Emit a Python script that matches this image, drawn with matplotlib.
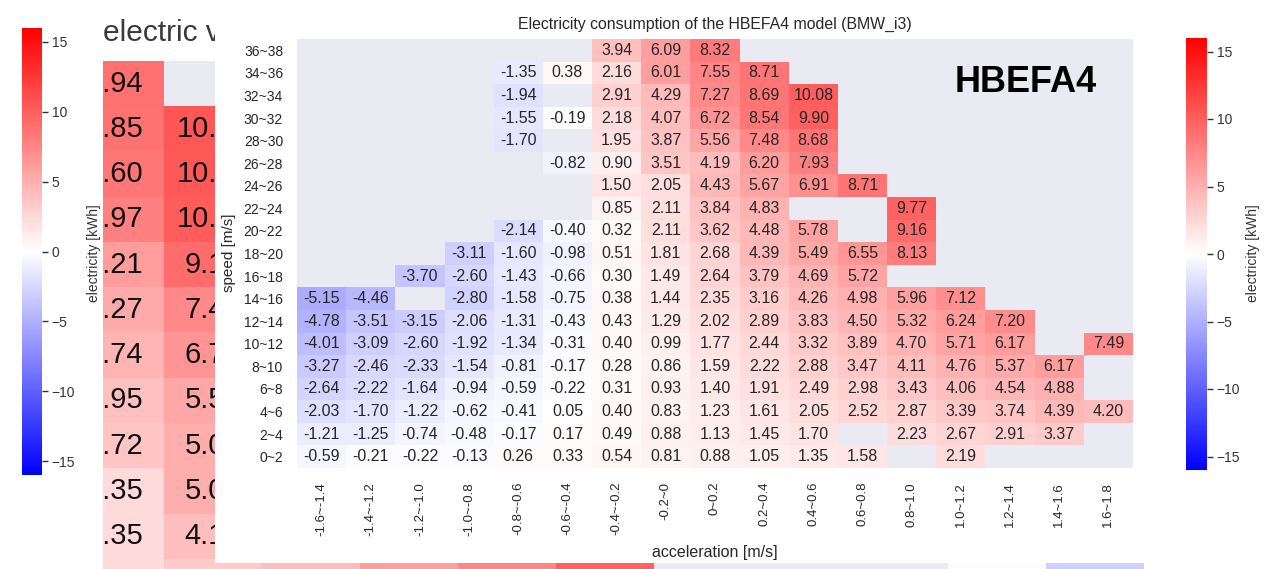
import numpy as np
import matplotlib
matplotlib.use("Agg")
import matplotlib.pyplot as plt
from matplotlib.colors import Normalize
from matplotlib.cm import ScalarMappable
from matplotlib.patches import Rectangle

plt.rcParams['font.family'] = ['Liberation Sans', 'DejaVu Sans']

nan = np.nan

# ---- HBEFA4 (BMW_i3) : electricity per speed / acceleration bin ----
speed_bins = ['36~38', '34~36', '32~34', '30~32', '28~30', '26~28', '24~26',
              '22~24', '20~22', '18~20', '16~18', '14~16', '12~14', '10~12',
              '8~10', '6~8', '4~6', '2~4', '0~2']
accel_bins = ['-1.6~-1.4', '-1.4~-1.2', '-1.2~-1.0', '-1.0~-0.8', '-0.8~-0.6',
              '-0.6~-0.4', '-0.4~-0.2', '-0.2~0', '0~0.2', '0.2~0.4',
              '0.4~0.6', '0.6~0.8', '0.8~1.0', '1.0~1.2', '1.2~1.4',
              '1.4~1.6', '1.6~1.8']

hbefa4_kwh = [
    [nan, nan, nan, nan, nan, nan, 3.94, 6.09, 8.32, nan, nan, nan, nan, nan, nan, nan, nan],
    [nan, nan, nan, nan, -1.35, 0.38, 2.16, 6.01, 7.55, 8.71, nan, nan, nan, nan, nan, nan, nan],
    [nan, nan, nan, nan, -1.94, nan, 2.91, 4.29, 7.27, 8.69, 10.08, nan, nan, nan, nan, nan, nan],
    [nan, nan, nan, nan, -1.55, -0.19, 2.18, 4.07, 6.72, 8.54, 9.90, nan, nan, nan, nan, nan, nan],
    [nan, nan, nan, nan, -1.70, nan, 1.95, 3.87, 5.56, 7.48, 8.68, nan, nan, nan, nan, nan, nan],
    [nan, nan, nan, nan, nan, -0.82, 0.90, 3.51, 4.19, 6.20, 7.93, nan, nan, nan, nan, nan, nan],
    [nan, nan, nan, nan, nan, nan, 1.50, 2.05, 4.43, 5.67, 6.91, 8.71, nan, nan, nan, nan, nan],
    [nan, nan, nan, nan, nan, nan, 0.85, 2.11, 3.84, 4.83, nan, nan, 9.77, nan, nan, nan, nan],
    [nan, nan, nan, nan, -2.14, -0.40, 0.32, 2.11, 3.62, 4.48, 5.78, nan, 9.16, nan, nan, nan, nan],
    [nan, nan, nan, -3.11, -1.60, -0.98, 0.51, 1.81, 2.68, 4.39, 5.49, 6.55, 8.13, nan, nan, nan, nan],
    [nan, nan, -3.70, -2.60, -1.43, -0.66, 0.30, 1.49, 2.64, 3.79, 4.69, 5.72, nan, nan, nan, nan, nan],
    [-5.15, -4.46, nan, -2.80, -1.58, -0.75, 0.38, 1.44, 2.35, 3.16, 4.26, 4.98, 5.96, 7.12, nan, nan, nan],
    [-4.78, -3.51, -3.15, -2.06, -1.31, -0.43, 0.43, 1.29, 2.02, 2.89, 3.83, 4.50, 5.32, 6.24, 7.20, nan, nan],
    [-4.01, -3.09, -2.60, -1.92, -1.34, -0.31, 0.40, 0.99, 1.77, 2.44, 3.32, 3.89, 4.70, 5.71, 6.17, nan, 7.49],
    [-3.27, -2.46, -2.33, -1.54, -0.81, -0.17, 0.28, 0.86, 1.59, 2.22, 2.88, 3.47, 4.11, 4.76, 5.37, 6.17, nan],
    [-2.64, -2.22, -1.64, -0.94, -0.59, -0.22, 0.31, 0.93, 1.40, 1.91, 2.49, 2.98, 3.43, 4.06, 4.54, 4.88, nan],
    [-2.03, -1.70, -1.22, -0.62, -0.41, 0.05, 0.40, 0.83, 1.23, 1.61, 2.05, 2.52, 2.87, 3.39, 3.74, 4.39, 4.20],
    [-1.21, -1.25, -0.74, -0.48, -0.17, 0.17, 0.49, 0.88, 1.13, 1.45, 1.70, nan, 2.23, 2.67, 2.91, 3.37, nan],
    [-0.59, -0.21, -0.22, -0.13, 0.26, 0.33, 0.54, 0.81, 0.88, 1.05, 1.35, 1.58, nan, 2.19, nan, nan, nan],
]

# ---- older electric vehicle heatmap that sits behind (only edges show) ----
ev_first_col = [8.94, 8.85, 8.60, 7.97, 6.21, 5.27, 4.74, 3.95, 3.72, 2.35, 2.35, 2.30]
ev_second_col = [nan, 10.52, 10.38, 10.21, 9.14, 7.43, 6.72, 5.56, 5.04, 5.01, 4.12, 3.30]
ev_last_row_rest = [4.21, 6.01, 7.51, 9.90, nan, nan, nan, -0.20, -3.00]

cbar_ticks = [15, 10, 5, 0, -5, -10, -15]

W, H = 1268, 569
norm = Normalize(vmin=-16, vmax=16)
cmap = 'bwr'
grid_bg = '#EAEAF2'
text_c = '#262626'


def box(x0, y0, x1, y1):
    # pixel box (top-left origin) -> figure fraction rect
    return [x0 / W, 1 - y1 / H, (x1 - x0) / W, (y1 - y0) / H]


fig = plt.figure(figsize=(W / 100, H / 100), dpi=100)

# background heatmap
ev = np.full((12, 11), nan)
ev[:, 0] = ev_first_col
ev[:, 1] = ev_second_col
ev[11, 2:] = ev_last_row_rest

ax_ev = fig.add_axes(box(66, 61, 66 + 98 * 11, 61 + 45.25 * 12), zorder=0)
ax_ev.set_facecolor(grid_bg)
ax_ev.pcolormesh(np.ma.masked_invalid(ev), cmap=cmap, norm=norm)
ax_ev.set_xlim(0, 11)
ax_ev.set_ylim(12, 0)
ax_ev.set_xticks([])
ax_ev.set_yticks([])
for s in ax_ev.spines.values():
    s.set_visible(False)
for i in range(ev.shape[0]):
    for j in range(ev.shape[1]):
        if not np.isnan(ev[i, j]):
            ax_ev.text(j + 0.5, i + 0.5, f'{ev[i, j]:.2f}', ha='center', va='center',
                       fontsize=21, color='#111111', clip_on=True)
fig.text(103 / W, 1 - 33 / H, 'electric vehicle', fontsize=21.5, color='#3a3a3a',
         ha='left', va='center', zorder=0.5)

# white strip on the left + first colorbar
fig.add_artist(Rectangle((0, 0), 103 / W, 1, transform=fig.transFigure,
                         facecolor='white', edgecolor='none', zorder=1))
cax_l = fig.add_axes(box(22, 28, 42, 475), zorder=2)
cb_l = fig.colorbar(ScalarMappable(norm=norm, cmap=cmap), cax=cax_l, ticks=cbar_ticks)
cb_l.outline.set_visible(False)
cax_l.tick_params(length=4, width=1, labelsize=10, colors='#333333', pad=3)
fig.text(94 / W, 1 - 253 / H, 'electricity [kWh]', rotation=90, ha='center', va='center',
         fontsize=10, color='#333333', zorder=2)

# white panel for the HBEFA4 chart
fig.add_artist(Rectangle((215 / W, 1 - 563 / H), (W - 215) / W, 563 / H,
                         transform=fig.transFigure, facecolor='white',
                         edgecolor='none', zorder=3))

kwh = np.array(hbefa4_kwh)
ax = fig.add_axes(box(297, 39, 1133, 468), zorder=4)
ax.set_facecolor(grid_bg)
ax.pcolormesh(np.ma.masked_invalid(kwh), cmap=cmap, norm=norm)
ax.set_xlim(0, len(accel_bins))
ax.set_ylim(len(speed_bins), 0)
ax.set_xticks(np.arange(len(accel_bins)) + 0.5, accel_bins, rotation=90, fontsize=9.5)
ax.set_yticks(np.arange(len(speed_bins)) + 0.5, speed_bins, fontsize=10)
ax.tick_params(length=0, pad=10, colors=text_c)
for s in ax.spines.values():
    s.set_visible(False)
for i in range(kwh.shape[0]):
    for j in range(kwh.shape[1]):
        if not np.isnan(kwh[i, j]):
            ax.text(j + 0.5, i + 0.5, f'{kwh[i, j]:.2f}', ha='center', va='center',
                    fontsize=11.5, color=text_c)

fig.text(715 / W, 1 - 24 / H, 'Electricity consumption of the HBEFA4 model (BMW_i3)',
         ha='center', va='center', fontsize=11.4, color=text_c, zorder=5)
fig.text(715 / W, 1 - 553 / H, 'acceleration [m/s]', ha='center', va='center',
         fontsize=11.5, color=text_c, zorder=5)
fig.text(229 / W, 1 - 253 / H, 'speed [m/s]', rotation=90, ha='center', va='center',
         fontsize=11, color=text_c, zorder=5)
fig.text(955 / W, 1 - 82 / H, 'HBEFA4', ha='left', va='center', fontsize=26,
         fontweight='bold', color='black', zorder=5)

cax_r = fig.add_axes(box(1186, 38, 1207, 470), zorder=4)
cb_r = fig.colorbar(ScalarMappable(norm=norm, cmap=cmap), cax=cax_r, ticks=cbar_ticks)
cb_r.outline.set_visible(False)
cax_r.tick_params(length=4, width=1, labelsize=10, colors='#333333', pad=3)
fig.text(1253 / W, 1 - 253 / H, 'electricity [kWh]', rotation=90, ha='center', va='center',
         fontsize=10, color='#333333', zorder=5)

fig.savefig('out.png', dpi=100)
